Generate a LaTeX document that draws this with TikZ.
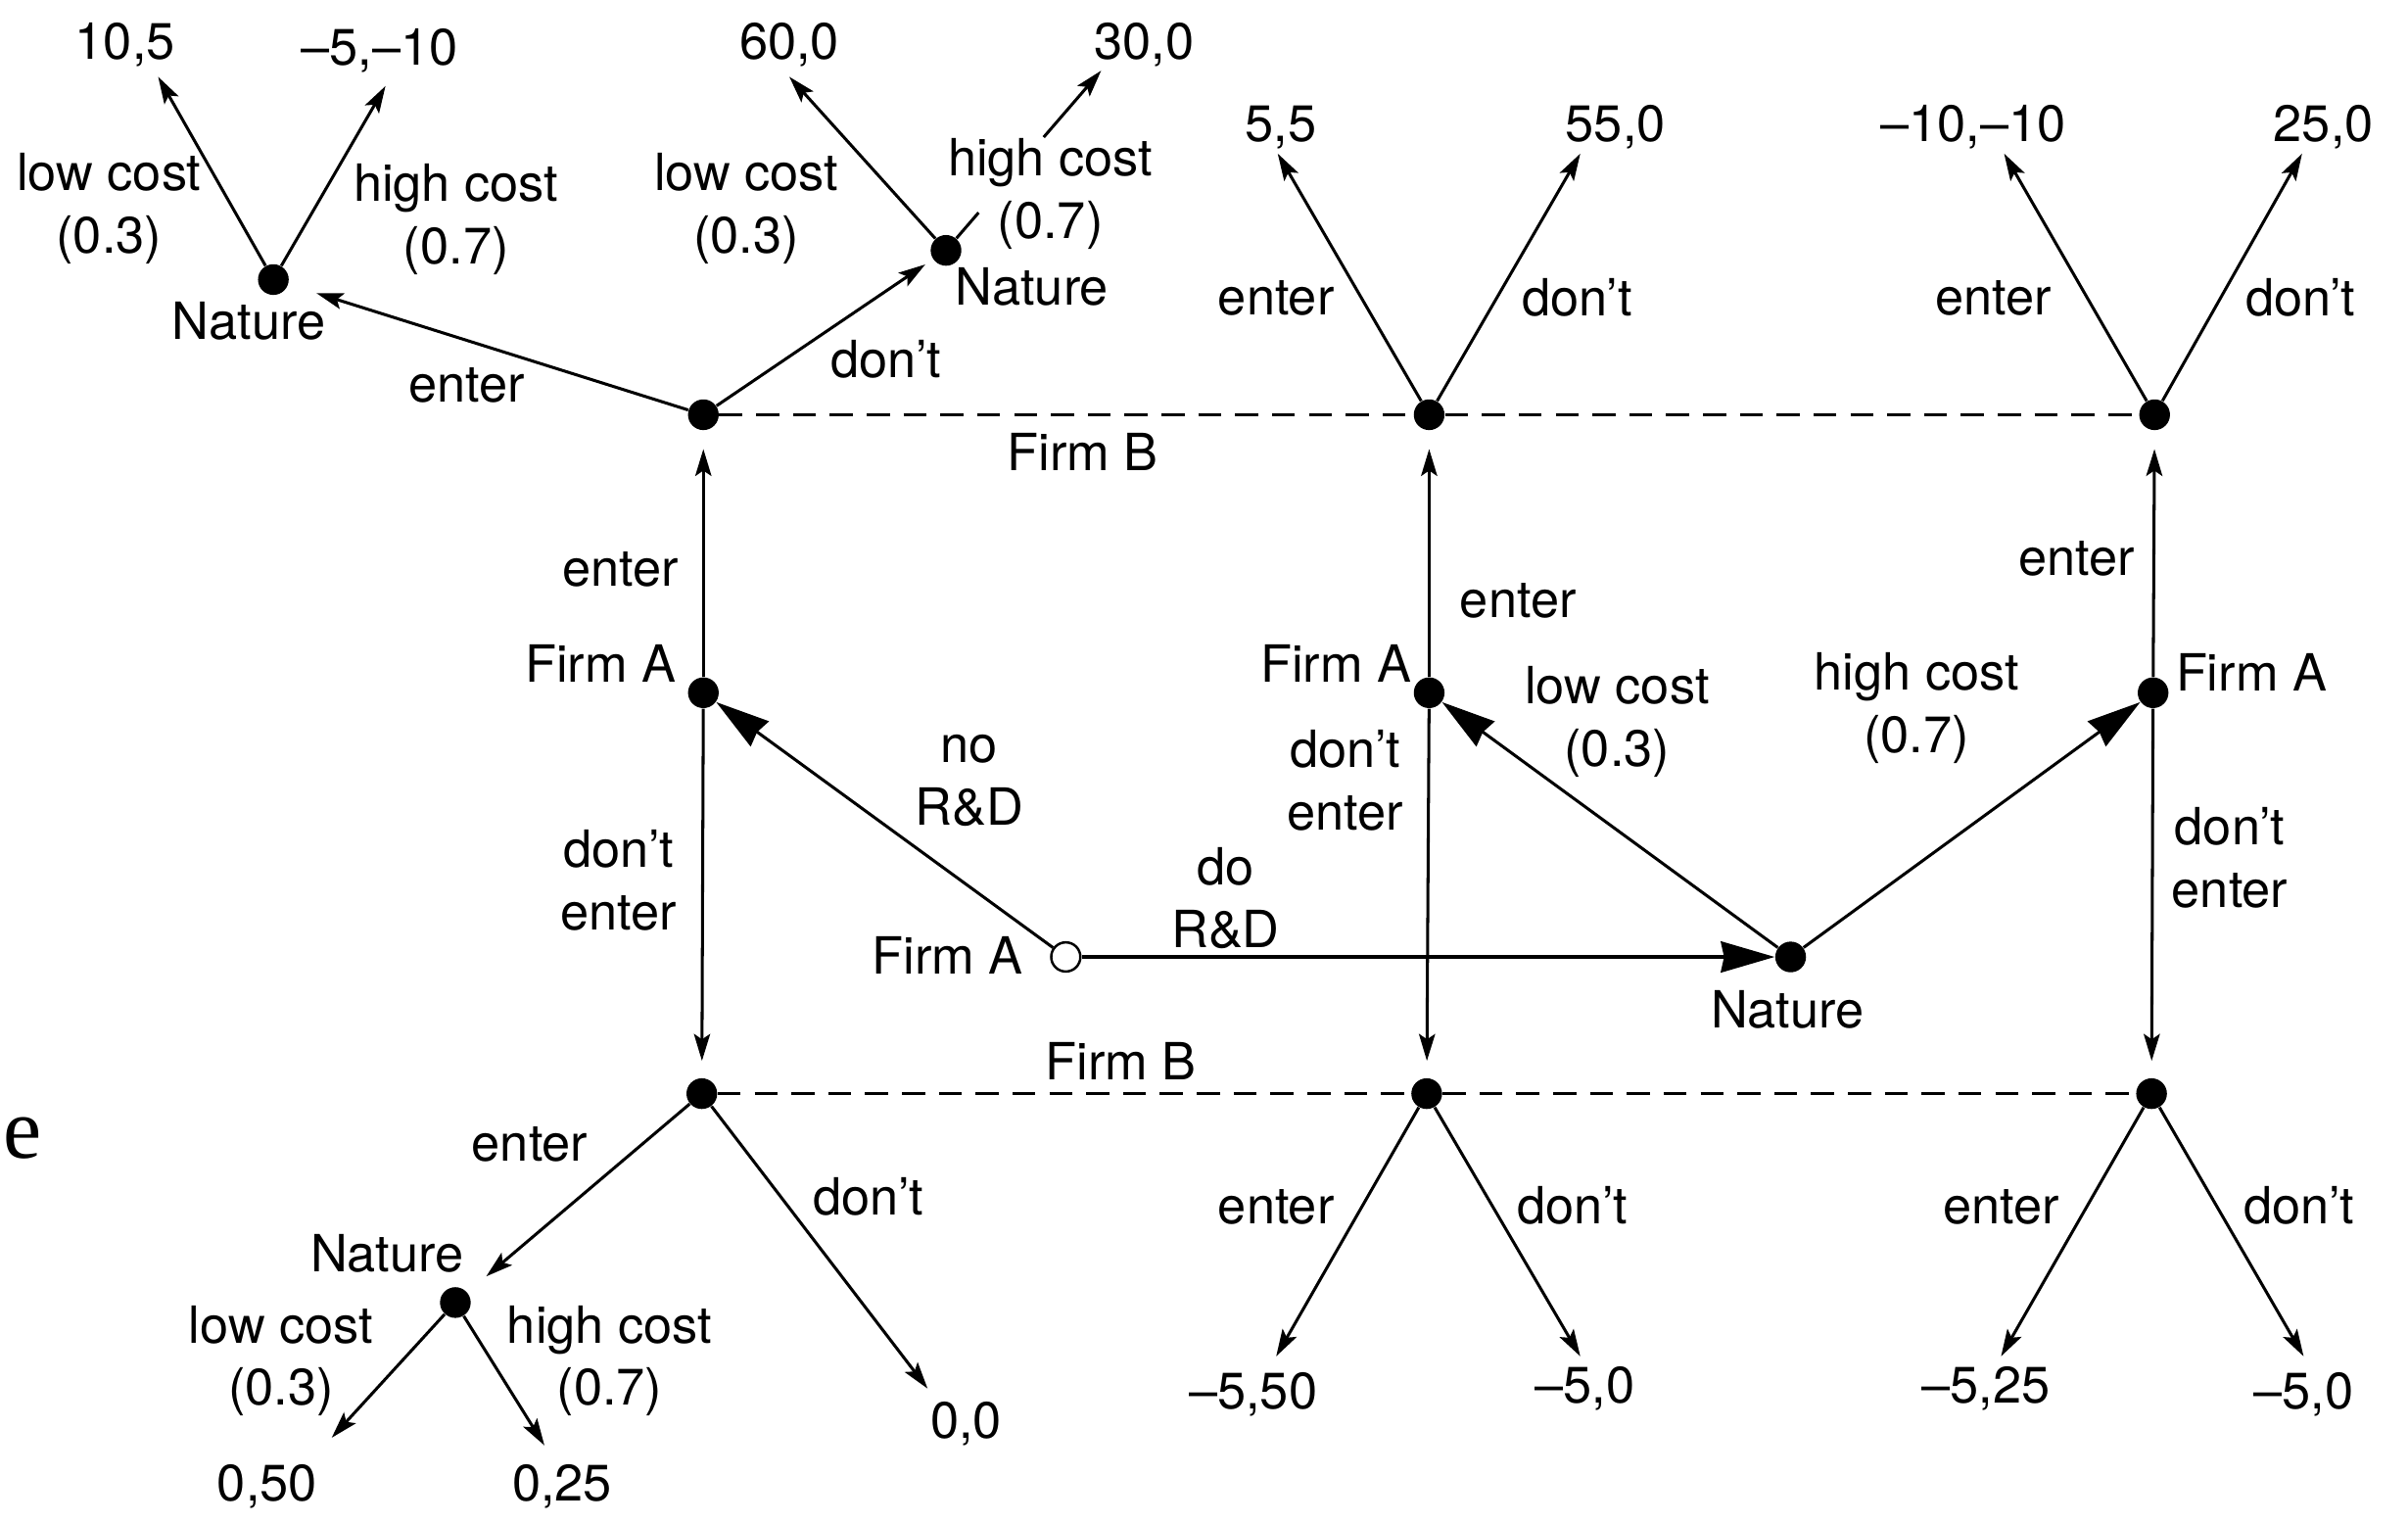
\documentclass[tikz,border=0pt]{standalone}
\usepackage{fontspec}
\setmainfont{TeX Gyre Heros}
\newfontfamily\pageserif{Liberation Serif}
\usepackage{tikz}
\usetikzlibrary{arrows.meta,calc}
\tikzset{
  dot/.style     = {circle, fill=black, inner sep=0pt, minimum size=0.4cm},
  odot/.style    = {circle, draw=black, fill=white, line width=0.9pt, inner sep=0pt, minimum size=0.38cm},
  lbl/.style     = {font=\fontsize{19}{23.2}\selectfont, align=center, inner sep=0pt},
  move/.style    = {-{Stealth[length=0.35cm,width=0.21cm,inset=0.07cm]}, line width=1.1pt},
  bigmove/.style = {-{Stealth[length=0.7cm,width=0.4cm,inset=0.04cm]}, line width=1.1pt},
  infoset/.style = {dash pattern=on 0.3cm off 0.18cm, line width=1.1pt},
}

\begin{document}
\begin{tikzpicture}[x=0.02cm, y=-0.02cm]
  \useasboundingbox (0,0) rectangle (1568,992);

  % decision and chance nodes
  \node[odot] (root) at (694,623) {};
  \node[dot] (natR) at (1166,623) {};
  \node[dot] (aL) at (458,451) {};
  \node[dot] (aM) at (930.6,451) {};
  \node[dot] (aR) at (1402,451) {};
  \node[dot] (bT1) at (458,270) {};
  \node[dot] (bT2) at (930.6,270) {};
  \node[dot] (bT3) at (1403,270) {};
  \node[dot] (bB1) at (457,712) {};
  \node[dot] (bB2) at (929,712) {};
  \node[dot] (bB3) at (1401,712) {};
  \node[dot] (nTL) at (178,182) {};
  \node[dot] (nTM) at (616,163) {};
  \node[dot] (nBL) at (296.5,848) {};

  % arrow ends at the payoffs
  \coordinate (tTL1) at (103,50);   \coordinate (tTL2) at (251,56);
  \coordinate (tTM1) at (514,50);   \coordinate (tTM2) at (717,46);
  \coordinate (tT21) at (832,100);  \coordinate (tT22) at (1029,100);
  \coordinate (tT31) at (1305,100); \coordinate (tT32) at (1499,100);
  \coordinate (tBL1) at (216,936);  \coordinate (tBL2) at (354.5,941);
  \coordinate (tB10) at (604,904);
  \coordinate (tB21) at (831,883);  \coordinate (tB22) at (1029,883);
  \coordinate (tB31) at (1303,883); \coordinate (tB32) at (1500,883);

  % first moves
  \draw[bigmove] (root) -- (aL);
  \draw[bigmove, line width=1.6pt] (root) -- (natR);
  \draw[bigmove] (natR) -- (aM);
  \draw[bigmove] (natR) -- (aR);

  % Firm A
  \foreach \a/\t/\b in {aL/bT1/bB1, aM/bT2/bB2, aR/bT3/bB3} {
    \draw[move, shorten >=0.24cm] (\a) -- (\t);
    \draw[move, shorten >=0.22cm] (\a) -- (\b);
  }

  % Firm B information sets
  \draw[infoset] (bT1) -- (bT2) -- (bT3);
  \draw[infoset] (bB1) -- (bB2) -- (bB3);

  % Firm B moves
  \draw[move, shorten >=0.38cm] (bT1) -- (nTL);
  \draw[move, shorten >=0.12cm] (bT1) -- (nTM);
  \draw[move] (bT2) -- (tT21);
  \draw[move] (bT2) -- (tT22);
  \draw[move] (bT3) -- (tT31);
  \draw[move] (bT3) -- (tT32);
  \draw[move, shorten >=0.32cm] (bB1) -- (nBL);
  \draw[move] (bB1) -- (tB10);
  \draw[move] (bB2) -- (tB21);
  \draw[move] (bB2) -- (tB22);
  \draw[move] (bB3) -- (tB31);
  \draw[move] (bB3) -- (tB32);

  % Nature after Firm B
  \draw[move] (nTL) -- (tTL1);
  \draw[move] (nTL) -- (tTL2);
  \draw[move] (nTM) -- (tTM1);
  \draw[line width=1.1pt] (nTM) -- ($(nTM)!0.21!(tTM2)$);
  \draw[move] ($(nTM)!0.63!(tTM2)$) -- (tTM2);
  \draw[move] (nBL) -- (tBL1);
  \draw[move] (nBL) -- (tBL2);

  % players
  \node[lbl] (lroot) at (617,622) {Firm A};
  \node[lbl] (laL) at (391,432) {Firm A};
  \node[lbl] (laM) at (870,432) {Firm A};
  \node[lbl] (laR) at (1466,438) {Firm A};
  \node[lbl] (lnatR) at (1164,657) {Nature};
  \node[lbl] (lbT) at (705,294) {Firm B};
  \node[lbl] (lbB) at (730,691) {Firm B};
  \node[lbl] (lnTL) at (162,209) {Nature};
  \node[lbl] (lnTM) at (672,187) {Nature};
  \node[lbl] (lnBL) at (252,816) {Nature};

  % actions
  \node[lbl] at (631,508) {no\\R\&D};
  \node[lbl] at (798,584.5) {do\\R\&D};
  \node[lbl] at (1053,470) {low cost\\(0.3)};
  \node[lbl] at (1248,461) {high cost\\(0.7)};
  \node[lbl] at (404,371) {enter};
  \node[lbl] at (403,573) {don’t\\enter};
  \node[lbl] at (988.5,391) {enter};
  \node[lbl] at (876,508) {don’t\\enter};
  \node[lbl] at (1352,364) {enter};
  \node[lbl] at (1452,558.5) {don’t\\enter};
  \node[lbl] at (304,251) {enter};
  \node[lbl] at (577,234) {don’t};
  \node[lbl] at (831,194) {enter};
  \node[lbl] at (1027,194) {don’t};
  \node[lbl] at (1298,194) {enter};
  \node[lbl] at (1498,194) {don’t};
  \node[lbl] at (345,745) {enter};
  \node[lbl] at (565.5,779) {don’t};
  \node[lbl] at (831,786) {enter};
  \node[lbl] at (1024,784.5) {don’t};
  \node[lbl] at (1303,786) {enter};
  \node[lbl] at (1497,784.5) {don’t};
  \node[lbl] at (71,136) {low cost\\(0.3)};
  \node[lbl] at (297,143) {high cost\\(0.7)};
  \node[lbl] at (486,135.5) {low cost\\(0.3)};
  \node[lbl] at (684,126) {high cost\\(0.7)};
  \node[lbl] at (183,886) {low cost\\(0.3)};
  \node[lbl] at (397,886) {high cost\\(0.7)};

  % payoffs
  \node[lbl] at (81.5,29) {10,5};
  \node[lbl] at (247,33) {–5,–10};
  \node[lbl] at (514,29) {60,0};
  \node[lbl] at (745,29) {30,0};
  \node[lbl] at (834,83) {5,5};
  \node[lbl] at (1052,83) {55,0};
  \node[lbl] at (1285,83) {–10,–10};
  \node[lbl] at (1513,83) {25,0};
  \node[lbl] at (174,967.5) {0,50};
  \node[lbl] at (366,967.5) {0,25};
  \node[lbl] at (629,927) {0,0};
  \node[lbl] at (816,907.6) {–5,50};
  \node[lbl] at (1032,904) {–5,0};
  \node[lbl] at (1293,904) {–5,25};
  \node[lbl] at (1500,907.6) {–5,0};

  % cut-off page text
  \node[anchor=base west, inner sep=0pt, font=\pageserif\fontsize{32}{32}\selectfont] (pagee) at (2,754) {e};
\end{tikzpicture}
\end{document}
